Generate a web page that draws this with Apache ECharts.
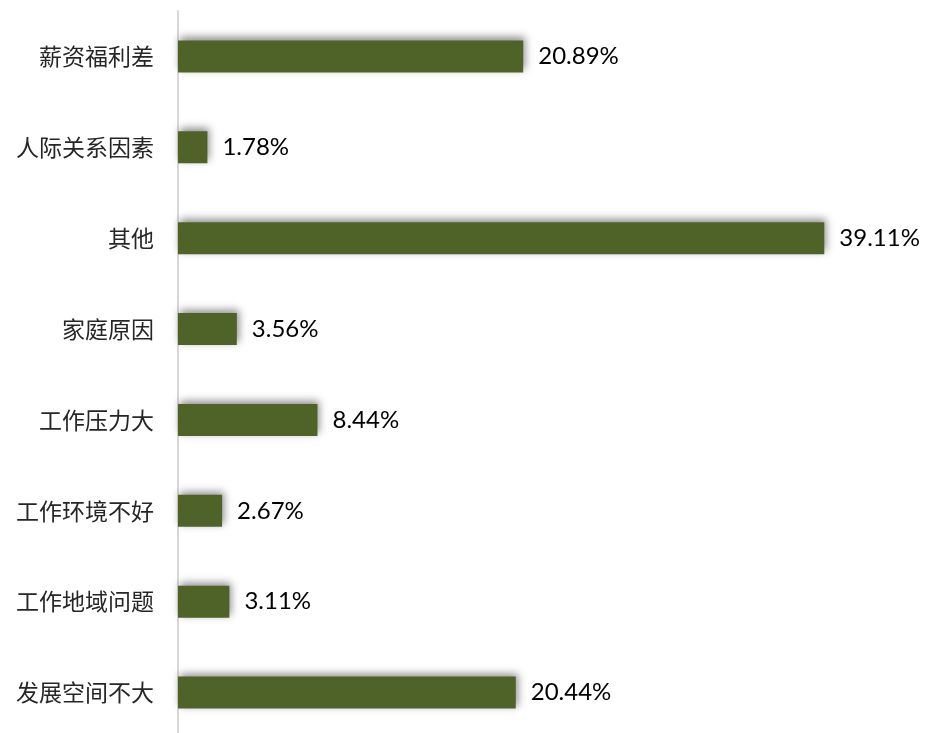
<!DOCTYPE html>
<html>
<head>
<meta charset="utf-8">
<script src="https://cdn.jsdelivr.net/npm/echarts@6/dist/echarts.min.js"></script>
<style>html,body{margin:0;padding:0;background:#fff;}#c{width:926px;height:733px;}</style>
</head>
<body>
<div id="c"></div>
<script>
const categories = ['薪资福利差','人际关系因素','其他','家庭原因','工作压力大','工作环境不好','工作地域问题','发展空间不大'];
const values = [20.89, 1.78, 39.11, 3.56, 8.44, 2.67, 3.11, 20.44];

const chart = echarts.init(document.getElementById('c'));
chart.setOption({
  animation: false,
  grid: {left: 178, top: 11, width: 661, height: 727, containLabel: false, outerBoundsMode: 'none'},
  xAxis: {type: 'value', min: 0, max: 40, show: false},
  yAxis: {
    type: 'category', inverse: true, data: categories,
    axisLine: {show: true, lineStyle: {color: '#d9d9d9', width: 2}},
    axisTick: {show: false},
    axisLabel: {margin: 24, fontSize: 23, color: '#262626', fontFamily: '"Noto Sans CJK SC", sans-serif'}
  },
  series: [{
    type: 'bar', data: values, barWidth: 32,
    itemStyle: {color: '#4F6228', shadowColor: 'rgba(0,0,0,0.45)', shadowBlur: 8, shadowOffsetX: 2, shadowOffsetY: -3},
    label: {show: true, position: 'right', distance: 15, fontSize: 24, color: '#000', fontFamily: 'Lato, "Noto Sans", sans-serif',
      formatter: p => p.value.toFixed(2) + '%'}
  }]
});
</script>
</body>
</html>
